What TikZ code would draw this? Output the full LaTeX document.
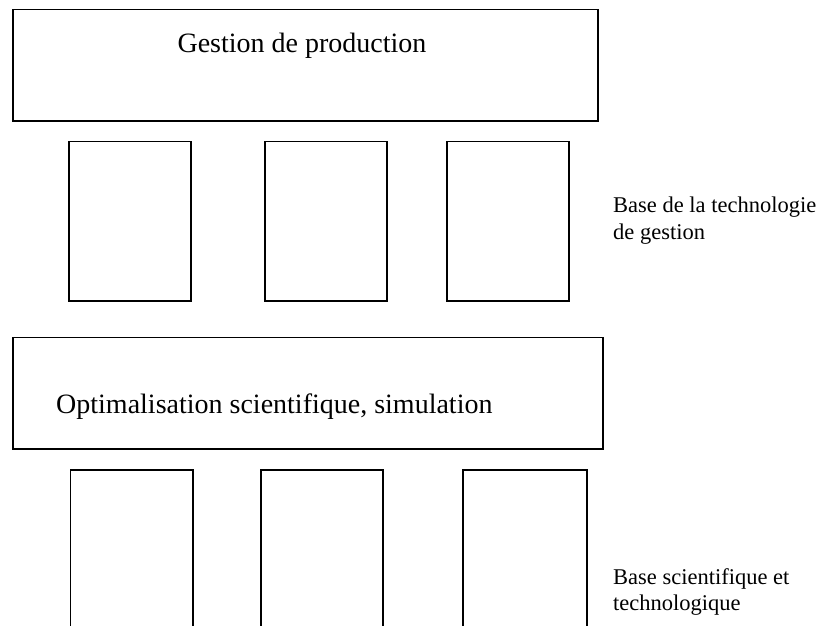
\documentclass[tikz,border=0pt]{standalone}
\usepackage{fontspec}
\setmainfont{Liberation Serif}
\begin{document}
\begin{tikzpicture}[x=1pt,y=-1pt,
  frame/.style={draw=black, line width=1.3pt, rectangle, inner sep=0pt, outer sep=0pt},
  bigtext/.style={inner sep=0pt, font=\fontsize{28}{32}\selectfont},
  sidetext/.style={inner sep=0pt, anchor=base west, font=\fontsize{22.5}{27}\selectfont}]
  \useasboundingbox (0,0) rectangle (823,626);
  \clip (0,0) rectangle (823,626);
  % management layer
  \node[frame, minimum width=585pt, minimum height=111.5pt] (top) at (305.5,65.25) {};
  \node[bigtext, anchor=base] (toptext) at (302,53) {Gestion de production};
  \node[frame, minimum width=122pt, minimum height=159.3pt] (g1) at (130,221.35) {};
  \node[frame, minimum width=122pt, minimum height=159.3pt] (g2) at (326,221.35) {};
  \node[frame, minimum width=122pt, minimum height=159.3pt] (g3) at (508,221.35) {};
  \node[sidetext] (lab1a) at (613,212) {Base de la technologie};
  \node[sidetext] (lab1b) at (613,239) {de gestion};
  % scientific layer
  \node[frame, minimum width=590pt, minimum height=111.3pt] (mid) at (308,393.35) {};
  \node[bigtext, anchor=base west] (midtext) at (56,413) {Optimalisation scientifique, simulation};
  \node[frame, minimum width=122.3pt, minimum height=170pt] (s1) at (131.85,555) {};
  \node[frame, minimum width=122pt, minimum height=170pt] (s2) at (322,555) {};
  \node[frame, minimum width=124pt, minimum height=170pt] (s3) at (525,555) {};
  \node[sidetext] (lab2a) at (613,584) {Base scientifique et};
  \node[sidetext] (lab2b) at (613,610) {technologique};
\end{tikzpicture}
\end{document}
